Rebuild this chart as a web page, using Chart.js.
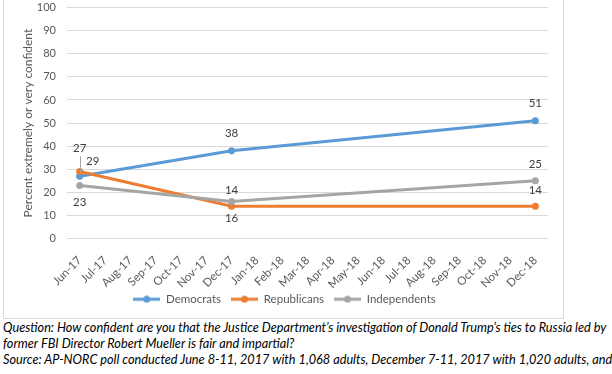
<!DOCTYPE html>
<html>
<head>
<meta charset="utf-8">
<script src="https://cdn.jsdelivr.net/npm/chart.js@4.4.0/dist/chart.umd.min.js"></script>
<style>
body { margin: 0; background: #fff; width: 612px; height: 374px; overflow: hidden; position: relative; }
#box { position: absolute; left: 3px; top: -1px; width: 559px; height: 318px; border: 1px solid #d9d9d9; }
#note { position: absolute; left: 3px; top: 319px; font: italic 12.7px Lato; line-height: 16px; color: #000; white-space: nowrap; }
</style>
</head>
<body>
<div id="box"><canvas id="chart-confidence" width="559" height="318" style="width:559px;height:318px"></canvas></div>
<div id="note">Question: How confident are you that the Justice Department’s investigation of Donald Trump’s ties to Russia led by<br>former FBI Director Robert Mueller is fair and impartial?<br>Source: AP-NORC poll conducted June 8-11, 2017 with 1,068 adults, December 7-11, 2017 with 1,020 adults, and</div>
<script>
const months = ['Jun-17', 'Jul-17', 'Aug-17', 'Sep-17', 'Oct-17', 'Nov-17', 'Dec-17', 'Jan-18', 'Feb-18', 'Mar-18',
    'Apr-18', 'May-18', 'Jun-18', 'Jul-18', 'Aug-18', 'Sep-18', 'Oct-18', 'Nov-18', 'Dec-18'];
const democrats = [27, null, null, null, null, null, 38, null, null, null, null, null, null, null, null, null, null, null, 51];
const republicans = [29, null, null, null, null, null, 14, null, null, null, null, null, null, null, null, null, null, null, 14];
const independents = [23, null, null, null, null, null, 16, null, null, null, null, null, null, null, null, null, null, null, 25];
const yTicks = [0, 10, 20, 30, 40, 50, 60, 70, 80, 90, 100];

// where each value label sits relative to its point (dx, dy)
const labelOffsets = [
    { 0: [0, -28], 6: [0, -17], 18: [0, -17] },
    { 0: [13, -10], 6: [0, -16], 18: [0, -16] },
    { 0: [0, 17], 6: [0, 17], 18: [0, -16] }
];

const tickColor = '#595959';

function legendMarker(color) {
    const c = document.createElement('canvas');
    c.width = 27;
    c.height = 8;
    const g = c.getContext('2d');
    g.strokeStyle = color;
    g.lineWidth = 3;
    g.beginPath();
    g.moveTo(0, 4);
    g.lineTo(27, 4);
    g.stroke();
    g.fillStyle = color;
    g.beginPath();
    g.arc(13.5, 4, 3.5, 0, Math.PI * 2);
    g.fill();
    return c;
}

const valueLabels = {
    id: 'valueLabels',
    afterDatasetsDraw(chart) {
        const ctx = chart.ctx;
        ctx.save();
        ctx.font = '11.5px Lato';
        ctx.fillStyle = '#404040';
        ctx.textAlign = 'center';
        ctx.textBaseline = 'middle';
        chart.data.datasets.forEach((ds, i) => {
            const meta = chart.getDatasetMeta(i);
            ds.data.forEach((v, j) => {
                if (v === null) return;
                const pt = meta.data[j];
                const off = labelOffsets[i][j];
                ctx.fillText(String(v), pt.x + off[0], pt.y + off[1]);
                if (i === 0 && j === 0) {
                    // leader line for the 27 label
                    ctx.strokeStyle = '#a6a6a6';
                    ctx.lineWidth = 1;
                    ctx.beginPath();
                    ctx.moveTo(Math.round(pt.x) + 0.5, pt.y + off[1] + 8);
                    ctx.lineTo(Math.round(pt.x) + 0.5, pt.y - 4);
                    ctx.stroke();
                }
            });
        });
        ctx.restore();
    }
};

function makeSet(label, data, color, order) {
    return {
        label: label,
        data: data,
        borderColor: color,
        backgroundColor: color,
        borderWidth: 3,
        pointRadius: 3.5,
        pointBorderWidth: 0,
        pointBackgroundColor: color,
        tension: 0,
        spanGaps: true,
        order: order
    };
}

const ctx = document.getElementById('chart-confidence').getContext('2d');
const myChart = new Chart(ctx, {
    type: 'line',
    data: {
        labels: months,
        datasets: [
            makeSet('Democrats', democrats, '#5b9bd5', 3),
            makeSet('Republicans', republicans, '#ed7d31', 2),
            makeSet('Independents', independents, '#a5a5a5', 1)
        ]
    },
    options: {
        responsive: false,
        animation: false,
        layout: { padding: { left: 17, right: 15, top: 0, bottom: 3 } },
        plugins: {
            tooltip: { enabled: false },
            legend: {
                position: 'bottom',
                labels: {
                    usePointStyle: true,
                    pointStyleWidth: 27,
                    padding: 10,
                    color: tickColor,
                    font: { family: 'Lato', size: 11.5 },
                    generateLabels: (chart) => chart.data.datasets.map((ds, i) => ({
                        text: ds.label,
                        datasetIndex: i,
                        pointStyle: legendMarker(ds.borderColor),
                        fillStyle: ds.borderColor,
                        strokeStyle: ds.borderColor,
                        lineWidth: 0,
                        fontColor: tickColor
                    }))
                }
            }
        },
        scales: {
            x: {
                offset: true,
                grid: { display: false },
                border: { display: false },
                ticks: {
                    color: tickColor,
                    font: { family: 'Lato', size: 11.5 },
                    maxRotation: 45,
                    minRotation: 45,
                    autoSkip: false,
                    padding: 7
                },
                afterFit: (scale) => {
                    scale.height = 45;
                    // rotated labels run past the fixed axis box, don't clip them
                    scale._computeLabelArea = () => undefined;
                }
            },
            y: {
                min: 0,
                max: 100,
                afterBuildTicks: (scale) => { scale.ticks = yTicks.map(v => ({ value: v })); },
                grid: { color: '#d9d9d9', lineWidth: 1, drawTicks: true, tickLength: 10, tickColor: 'rgba(0,0,0,0)' },
                border: { display: false },
                ticks: {
                    color: tickColor,
                    font: { family: 'Lato', size: 11 },
                    padding: 1
                },
                title: {
                    display: true,
                    text: 'Percent extremely or very confident',
                    color: tickColor,
                    font: { family: 'Lato', size: 12 },
                    padding: { top: 0, bottom: 4 }
                },
                afterFit: (scale) => { scale.width = 46; }
            }
        }
    },
    plugins: [valueLabels]
});
</script>
</body>
</html>
